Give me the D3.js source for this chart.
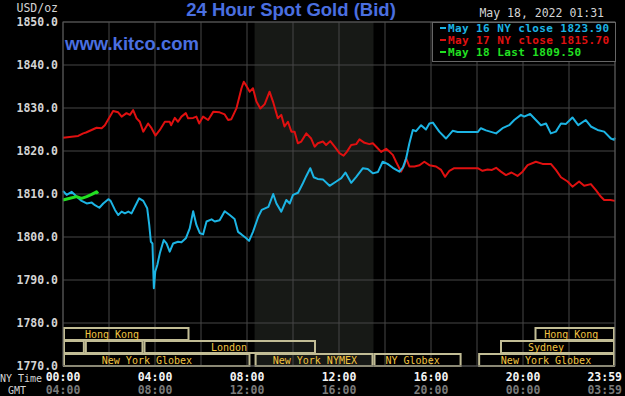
<!DOCTYPE html>
<html>
<head>
<meta charset="utf-8">
<script src="https://cdn.jsdelivr.net/npm/d3@7"></script>
<style>
  body { margin: 0; background: #000; }
  svg { display: block; }
</style>
</head>
<body>
<svg width="625" height="396"></svg>
<script>
// hours since 00:00 NY time, price
var may16 = [[0,1810.7],[0.16,1809.8],[0.38,1810.5],[0.59,1809.4],[0.81,1808.4],[1.03,1807.8],[1.25,1808],[1.39,1807.4],[1.58,1806.8],[1.75,1807.8],[1.97,1808.8],[2.07,1808.4],[2.26,1806.3],[2.4,1805.1],[2.55,1805.9],[2.69,1805.5],[2.84,1805.9],[2.98,1805.5],[3.13,1807.1],[3.31,1809.0],[3.49,1808.4],[3.66,1806.7],[3.75,1802.8],[3.82,1798.9],[3.89,1798.5],[3.95,1788.1],[4.01,1791.9],[4.1,1793.5],[4.21,1796.2],[4.38,1799.3],[4.5,1798.5],[4.64,1796.6],[4.79,1798.5],[5.0,1798.9],[5.15,1798.8],[5.34,1799.7],[5.51,1802.0],[5.66,1806.0],[5.8,1802.8],[5.95,1800.9],[6.09,1800.6],[6.24,1803.6],[6.46,1804.1],[6.6,1803.6],[6.81,1803.9],[7.03,1806.0],[7.25,1805.1],[7.46,1804.2],[7.61,1801.2],[7.76,1800.6],[7.97,1799.7],[8.09,1799.1],[8.26,1801.2],[8.49,1804.7],[8.64,1806.3],[8.93,1807.0],[9.14,1810.0],[9.28,1807.8],[9.49,1805.9],[9.71,1808.6],[9.86,1807.8],[10.0,1809.8],[10.22,1810.3],[10.43,1812.5],[10.58,1814.2],[10.75,1816.0],[10.9,1813.9],[11.07,1813.5],[11.3,1813.4],[11.59,1811.9],[11.88,1812.9],[12.1,1813.7],[12.28,1815.0],[12.53,1812.6],[12.75,1814.0],[13.04,1816.0],[13.25,1815.8],[13.47,1814.8],[13.69,1815.1],[13.9,1817.5],[14.11,1817.0],[14.34,1816.1],[14.63,1815.2],[14.78,1816.2],[14.92,1818.3],[15.06,1821.8],[15.21,1824.9],[15.35,1824.6],[15.57,1826.0],[15.78,1825],[15.93,1826.4],[16.08,1826.6],[16.36,1824.5],[16.65,1822.9],[16.94,1824.7],[17.16,1824.4],[18.03,1824.4],[18.17,1825.3],[18.39,1824.8],[18.83,1824.1],[19.11,1825.3],[19.4,1826.0],[19.62,1827.2],[19.91,1828.4],[20.05,1828.0],[20.31,1828.6],[20.56,1827.2],[20.78,1826.0],[21.0,1826.4],[21.21,1824.1],[21.43,1824.5],[21.65,1826.4],[21.87,1826.3],[22.15,1827.8],[22.4,1826.0],[22.73,1827.2],[22.95,1825.7],[23.24,1824.9],[23.53,1824.5],[23.82,1822.9],[23.96,1822.6],[24,1823.1]];

var may17 = [[0,1823.1],[0.66,1823.5],[0.88,1824.1],[1.0,1824.3],[1.46,1825.4],[1.68,1825.3],[1.82,1826.0],[2.18,1829.3],[2.4,1829.0],[2.55,1828.0],[2.76,1828.8],[2.91,1828.4],[3.05,1829.5],[3.2,1827.6],[3.34,1826.8],[3.49,1824.5],[3.7,1826.4],[3.85,1825.3],[4.02,1823.6],[4.21,1824.9],[4.43,1826.8],[4.64,1826.8],[4.7,1826.0],[4.86,1827.7],[5.0,1826.8],[5.15,1828.0],[5.34,1828.8],[5.44,1827.6],[5.66,1827.7],[5.8,1828.0],[5.92,1826.4],[6.09,1828.0],[6.31,1827.2],[6.53,1829.1],[6.81,1829.0],[7.03,1828.5],[7.18,1827.2],[7.32,1827.4],[7.54,1829.9],[7.76,1834.6],[7.86,1836.1],[7.97,1835.2],[8.12,1833.8],[8.26,1834.6],[8.41,1831.5],[8.58,1829.9],[8.77,1830.9],[8.98,1833.8],[9.13,1831.5],[9.34,1827.6],[9.49,1828.4],[9.63,1825.7],[9.78,1826.8],[9.93,1824.5],[10.07,1824.5],[10.21,1821.8],[10.36,1822.2],[10.58,1824.1],[10.79,1822.9],[10.94,1821.0],[11.08,1821.8],[11.3,1822.2],[11.44,1821.4],[11.62,1822.3],[11.81,1821.0],[12.02,1819.5],[12.2,1818.9],[12.34,1819.8],[12.53,1821.4],[12.75,1821.6],[12.89,1822.7],[13.11,1821.9],[13.32,1821.6],[13.47,1821.8],[13.62,1821.0],[13.83,1819.8],[14.05,1820.5],[14.2,1819.8],[14.34,1819.1],[14.48,1817.5],[14.7,1815.2],[14.84,1816.7],[14.92,1818.3],[15.06,1816.4],[15.28,1816.4],[15.5,1816.7],[15.71,1817.5],[15.93,1816.7],[16.22,1816.4],[16.44,1815.6],[16.61,1814.0],[16.8,1815.4],[17.01,1816.0],[17.45,1816.0],[18.03,1816.0],[18.24,1815.4],[18.46,1815.7],[18.65,1815.6],[18.83,1816.1],[19.04,1815.2],[19.26,1814.4],[19.5,1815.0],[19.76,1814.2],[19.98,1815.2],[20.2,1816.7],[20.56,1817.5],[20.85,1817.0],[21.21,1817.0],[21.43,1815.6],[21.65,1813.9],[21.94,1812.9],[22.15,1811.7],[22.44,1812.9],[22.66,1811.9],[22.95,1812.3],[23.17,1810.9],[23.38,1809.4],[23.53,1808.6],[23.8,1808.6],[24,1808.4]];

var may18 = [[0,1808.6],[0.3,1809.0],[0.59,1809.4],[0.81,1809.0],[1.03,1809.4],[1.25,1809.9],[1.46,1810.5],[1.52,1810.1]];

var legendLabels = ["May 16 NY close 1823.90", "May 17 NY close 1815.70", "May 18 Last 1809.50"];
var seriesColors = ["#1cb4e4", "#e01010", "#22e022"];

var yTicks = [1770, 1780, 1790, 1800, 1810, 1820, 1830, 1840, 1850];
var xTicks = [0, 4, 8, 12, 16, 20, 24];
var nyLabels = ["00:00", "04:00", "08:00", "12:00", "16:00", "20:00", "23:59"];
var gmtLabels = ["04:00", "08:00", "12:00", "16:00", "20:00", "00:00", "03:59"];

// trading sessions: row, start hour, end hour, label, label centre hour
var sessions = [
  [0, 0, 5.5, "Hong Kong", 2.13],
  [0, 20.5, 24, "Hong Kong", 22.1],
  [1, 0, 0.95, "", 0],
  [1, 0.95, 3.5, "", 0],
  [1, 3.5, 11.0, "London", 7.22],
  [1, 19.0, 24, "Sydney", 21.0],
  [2, 0, 8.15, "New York Globex", 3.65],
  [2, 8.33, 13.5, "New York NYMEX", 10.95],
  [2, 13.5, 17.33, "NY Globex", 15.2],
  [2, 18.05, 24, "New York Globex", 21.0]
];
var nymexHours = [8.33, 13.5];

var mono = "'DejaVu Sans Mono', monospace";
var sans = "'Liberation Sans', Arial, sans-serif";

var svg = d3.select("svg");
svg.append("rect").attr("width", 625).attr("height", 396).attr("fill", "#000");

var x = d3.scaleLinear().domain([0, 24]).range([63, 615]);
var y = d3.scaleLinear().domain([1770, 1850]).range([366, 22]);

// NYMEX shading
svg.append("rect")
  .attr("x", x(nymexHours[0])).attr("y", y(1850))
  .attr("width", x(nymexHours[1]) - x(nymexHours[0]))
  .attr("height", y(1770) - y(1850))
  .attr("fill", "#171916");

// grid
svg.selectAll(".hgrid").data(yTicks).enter().append("line")
  .attr("class", "hgrid")
  .attr("x1", x(0)).attr("x2", x(24))
  .attr("y1", function(d) { return y(d); }).attr("y2", function(d) { return y(d); })
  .attr("stroke", "#474747").attr("stroke-width", 1);

svg.selectAll(".vgrid").data(d3.range(0, 25, 2)).enter().append("line")
  .attr("class", "vgrid")
  .attr("x1", function(d) { return x(d); }).attr("x2", function(d) { return x(d); })
  .attr("y1", y(1850)).attr("y2", y(1770))
  .attr("stroke", "#474747").attr("stroke-width", 1);

// session boxes
var rowTop = [327, 340, 353];
var rowH = 13;
var sg = svg.selectAll(".session").data(sessions).enter().append("g").attr("class", "session");
sg.append("rect")
  .attr("x", function(d) { return x(d[1]) + 1; })
  .attr("y", function(d) { return rowTop[d[0]] + 1; })
  .attr("width", function(d) { return x(d[2]) - x(d[1]) - 2; })
  .attr("height", rowH - 1)
  .attr("fill", "none")
  .attr("stroke", "#c2bd95").attr("stroke-width", 2);
sg.append("text")
  .attr("x", function(d) { return x(d[4]); })
  .attr("y", function(d) { return rowTop[d[0]] + rowH / 2 + 1; })
  .attr("dy", "0.35em")
  .attr("text-anchor", "middle")
  .attr("font-family", mono).attr("font-size", "10px")
  .attr("fill", "#f2c440")
  .text(function(d) { return d[3]; });

// lines
var line = d3.line()
  .x(function(d) { return x(d[0]); })
  .y(function(d) { return y(d[1]); });

[may17, may16].forEach(function(s, i) {
  svg.append("path").datum(s)
    .attr("d", line)
    .attr("fill", "none")
    .attr("stroke", seriesColors[1 - i])
    .attr("stroke-width", 2)
    .attr("stroke-linejoin", "round");
});
svg.append("path").datum(may18)
  .attr("d", line)
  .attr("fill", "none")
  .attr("stroke", seriesColors[2])
  .attr("stroke-width", 3)
  .attr("stroke-linejoin", "round");

// plot border
svg.append("rect")
  .attr("x", x(0)).attr("y", y(1850))
  .attr("width", x(24) - x(0)).attr("height", y(1770) - y(1850))
  .attr("fill", "none").attr("stroke", "#555").attr("stroke-width", 1);

// legend
var lg = svg.append("g");
lg.append("rect")
  .attr("x", 432.5).attr("y", 22.5).attr("width", 183).attr("height", 39)
  .attr("fill", "#000").attr("stroke", "#666").attr("stroke-width", 1);
legendLabels.forEach(function(t, i) {
  lg.append("line")
    .attr("x1", 440).attr("x2", 446)
    .attr("y1", 28 + i * 12).attr("y2", 28 + i * 12)
    .attr("stroke", seriesColors[i]).attr("stroke-width", 2);
  lg.append("text")
    .attr("x", 448).attr("y", 28 + i * 12).attr("dy", "0.35em")
    .attr("font-family", mono).attr("font-size", "11px").attr("font-weight", "bold")
    .attr("letter-spacing", "0.4px")
    .attr("fill", seriesColors[i])
    .text(t);
});

// y labels
svg.selectAll(".ylab").data(yTicks).enter().append("text")
  .attr("class", "ylab")
  .attr("x", 58).attr("y", function(d) { return y(d); }).attr("dy", "0.35em")
  .attr("text-anchor", "end")
  .attr("font-family", mono).attr("font-size", "11.5px").attr("font-weight", "bold")
  .attr("fill", "#d4d4d4")
  .text(function(d) { return d3.format(".1f")(d); });

svg.append("text")
  .attr("x", 58).attr("y", 8).attr("dy", "0.35em").attr("text-anchor", "end")
  .attr("font-family", mono).attr("font-size", "11.5px")
  .attr("fill", "#d4d4d4").text("USD/oz");

// x labels
xTicks.forEach(function(h, i) {
  var last = i === xTicks.length - 1;
  svg.append("text")
    .attr("x", last ? 622 : x(h)).attr("y", 377).attr("dy", "0.35em")
    .attr("text-anchor", last ? "end" : "middle")
    .attr("font-family", mono).attr("font-size", "11.5px").attr("font-weight", "bold")
    .attr("fill", "#f4f4f4").text(nyLabels[i]);
  svg.append("text")
    .attr("x", last ? 622 : x(h)).attr("y", 390).attr("dy", "0.35em")
    .attr("text-anchor", last ? "end" : "middle")
    .attr("font-family", mono).attr("font-size", "11.5px").attr("font-weight", "bold")
    .attr("fill", "#7a7a7a").text(gmtLabels[i]);
});
svg.append("text")
  .attr("x", 0).attr("y", 378).attr("dy", "0.35em")
  .attr("font-family", mono).attr("font-size", "10px")
  .attr("fill", "#d4d4d4").text("NY Time");
svg.append("text")
  .attr("x", 8).attr("y", 390).attr("dy", "0.35em")
  .attr("font-family", mono).attr("font-size", "10px")
  .attr("fill", "#d4d4d4").text("GMT");

// titles
svg.append("text")
  .attr("x", 291).attr("y", 10).attr("dy", "0.35em").attr("text-anchor", "middle")
  .attr("font-family", sans).attr("font-size", "18.5px").attr("font-weight", "bold")
  .attr("fill", "#4a6fe0").text("24 Hour Spot Gold (Bid)");
svg.append("text")
  .attr("x", 65).attr("y", 44).attr("dy", "0.35em")
  .attr("font-family", sans).attr("font-size", "18.5px").attr("font-weight", "bold")
  .attr("fill", "#4a6fe0").text("www.kitco.com");
svg.append("text")
  .attr("x", 604).attr("y", 13).attr("dy", "0.35em").attr("text-anchor", "end")
  .attr("font-family", mono).attr("font-size", "11.5px")
  .attr("fill", "#d4d4d4").text("May 18, 2022 01:31");
</script>
</body>
</html>
